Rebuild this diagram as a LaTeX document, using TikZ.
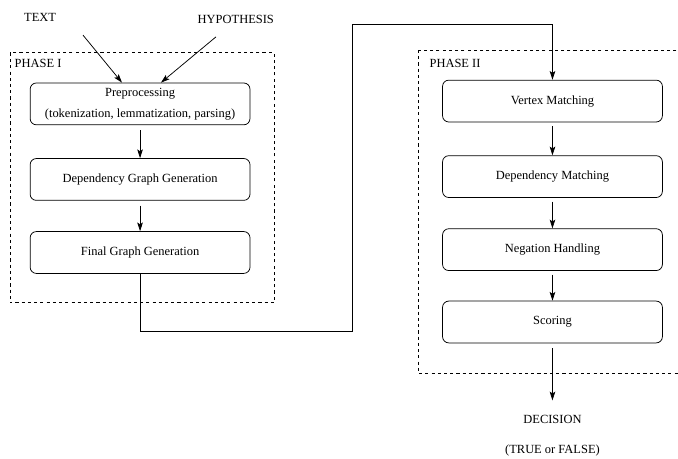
\documentclass[tikz,border=0pt]{standalone}
\usepackage{fontspec}
\setmainfont{Liberation Serif}
\usetikzlibrary{arrows.meta, positioning, calc}
\tikzset{
  every picture/.style={line width=0.6pt},
  stage/.style={draw, rounded corners=5pt, align=center, minimum width=6.2cm, minimum height=1.18cm, inner sep=2pt},
  arrow/.style={-{Stealth[length=7pt, width=4.5pt, inset=1.5pt]}},
  phase/.style={draw, dash pattern=on 2.5pt off 2.5pt},
  plain/.style={inner sep=1pt},
}

\begin{document}
\begin{tikzpicture}
  \useasboundingbox (0,0) rectangle (19.12,-12.92);
  % dashed frames round the two phases
  \draw[phase] (0.28,-1.49) rectangle (7.73,-8.54);
  \draw[phase] (11.79,-1.41) rectangle (19.5,-10.52);
  \node[plain, anchor=west] (ph1) at (0.37,-1.80) {PHASE I};
  \node[plain, anchor=west] (ph2) at (12.07,-1.80) {PHASE II};
  % inputs
  \node[plain] (text) at (1.13,-0.48) {TEXT};
  \node[plain] (hyp) at (6.65,-0.54) {HYPOTHESIS};
  \coordinate (tin) at (2.34,-0.99);
  \coordinate (hin) at (6.09,-1.04);
  % phase I stages
  \node[stage] (pre) at (3.95,-2.93) {Preprocessing\\[5pt](tokenization, lemmatization, parsing)};
  \foreach \n/\t/\y in {dep/Dependency Graph Generation/-5.06, fin/Final Graph Generation/-7.12}
    \node[stage] (\n) at (3.95,\y) {\t};
  \draw[arrow] (tin) -- ([xshift=-0.51cm]pre.north);
  \draw[arrow] (hin) -- ([xshift=0.59cm]pre.north);
  \foreach \a/\b in {pre/dep, dep/fin} \draw[arrow, shorten <=4pt] (\a) -- (\b);
  % phase II stages
  \foreach \n/\t/\y in {vtx/Vertex Matching/-2.85, dm/Dependency Matching/-4.98,
                        neg/Negation Handling/-7.04, sc/Scoring/-9.08}
    \node[stage] (\n) at (15.58,\y) {\t};
  \foreach \a/\b in {vtx/dm, dm/neg, neg/sc} \draw[arrow, shorten <=3pt] (\a) -- (\b);
  % output
  \node[plain] (dec) at (15.58,-11.84) {DECISION};
  \node[plain] (tf) at (15.58,-12.69) {(TRUE or FALSE)};
  \draw[arrow, shorten <=4pt, shorten >=11pt] (sc) -- (dec);
  % link from phase I to phase II
  \coordinate (bend) at (9.95,-0.70);
  \draw[arrow] (fin.south) -- ++(0,-1.62) -| (bend) -| (vtx.north);
\end{tikzpicture}
\end{document}
